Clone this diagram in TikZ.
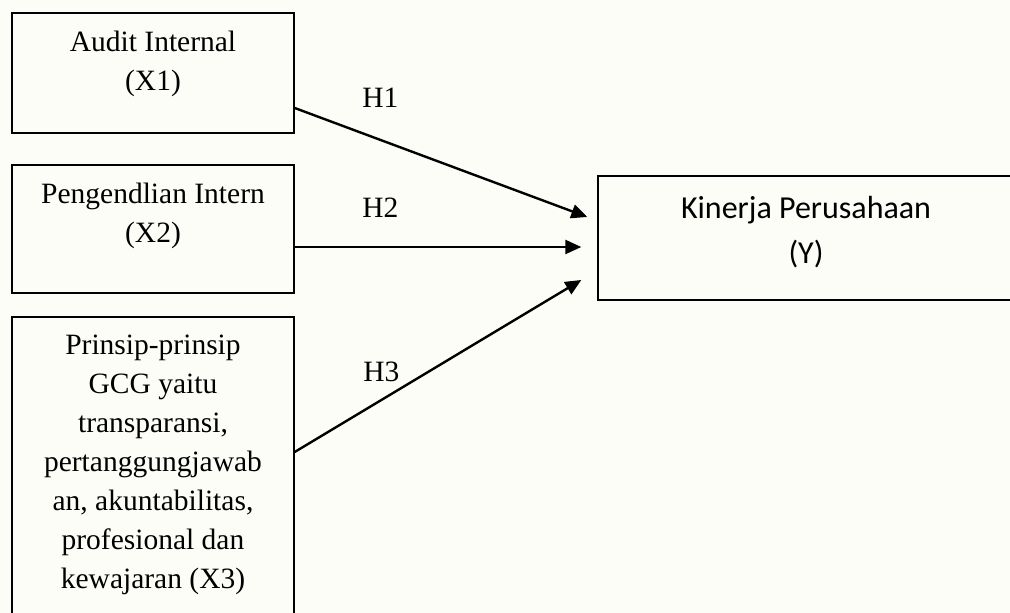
\documentclass[tikz,border=0pt]{standalone}
\usepackage{fontspec}
\setmainfont{Liberation Serif}
\newfontfamily\calibrifont{Carlito}
\usetikzlibrary{arrows.meta}

\definecolor{bgcream}{RGB}{253,253,248}

\tikzset{
  varbox/.style={draw=black, line width=0.7pt, minimum width=141pt, inner sep=0pt},
  vartext/.style={anchor=north, inner sep=0pt, align=center, font=\fontsize{14.75}{19.5}\selectfont},
  ytext/.style={anchor=north, inner sep=0pt, align=center, font=\calibrifont\fontsize{16}{22.5}\selectfont},
  hyparrow/.style={line width=1.2pt, -{Triangle[length=8pt,width=7pt]}},
  hyplabel/.style={anchor=base west, inner sep=0pt, font=\fontsize{14.75}{19.5}\selectfont}
}

\begin{document}
\begin{tikzpicture}[x=0.5pt,y=0.5pt]
	\useasboundingbox (0,0) rectangle (1010,-613);
	\clip (0,0) rectangle (1010,-613);
	\fill [bgcream] (0,0) rectangle (1010,-613);
	% variable boxes
	\node [varbox, minimum height=60pt] (x1) at (153,-73) {};
	\node [varbox, minimum height=64pt] (x2) at (153,-229) {};
	\node [varbox, minimum height=163pt] (x3) at (153,-480) {};
	\node [varbox, minimum width=208pt, minimum height=62pt] (y) at (806,-238) {};
	\node [vartext] (x1t) at ([yshift=-9.2pt]x1.north) {Audit Internal\\(X1)};
	\node [vartext] (x2t) at ([yshift=-9.2pt]x2.north) {Pengendlian Intern\\(X2)};
	\node [vartext] (x3t) at ([yshift=-9.2pt]x3.north) {Prinsip-prinsip\\GCG yaitu\\transparansi,\\pertanggungjawab\\an, akuntabilitas,\\profesional dan\\kewajaran (X3)};
	\node [ytext] (yt) at ([yshift=-10.5pt]y.north) {Kinerja Perusahaan\\(Y)};
	% arrow ends
	\coordinate (h1s) at ([yshift=-17.5pt]x1.east);
	\coordinate (h2s) at ([yshift=-9pt]x2.east);
	\coordinate (h3s) at ([yshift=14pt]x3.east);
	\coordinate (h1e) at ([xshift=-5pt,yshift=10.5pt]y.west);
	\coordinate (h2e) at ([xshift=-8pt,yshift=-4.5pt]y.west);
	\coordinate (h3e) at ([xshift=-8pt,yshift=-21pt]y.west);
	\draw [hyparrow] (h1s) -- (h1e);
	\draw [hyparrow] (h2s) -- (h2e);
	\draw [hyparrow] (h3s) -- (h3e);
	\node [hyplabel] (h1) at (362,-108) {H1};
	\node [hyplabel] (h2) at (362,-218) {H2};
	\node [hyplabel] (h3) at (363,-382) {H3};
\end{tikzpicture}
\end{document}
